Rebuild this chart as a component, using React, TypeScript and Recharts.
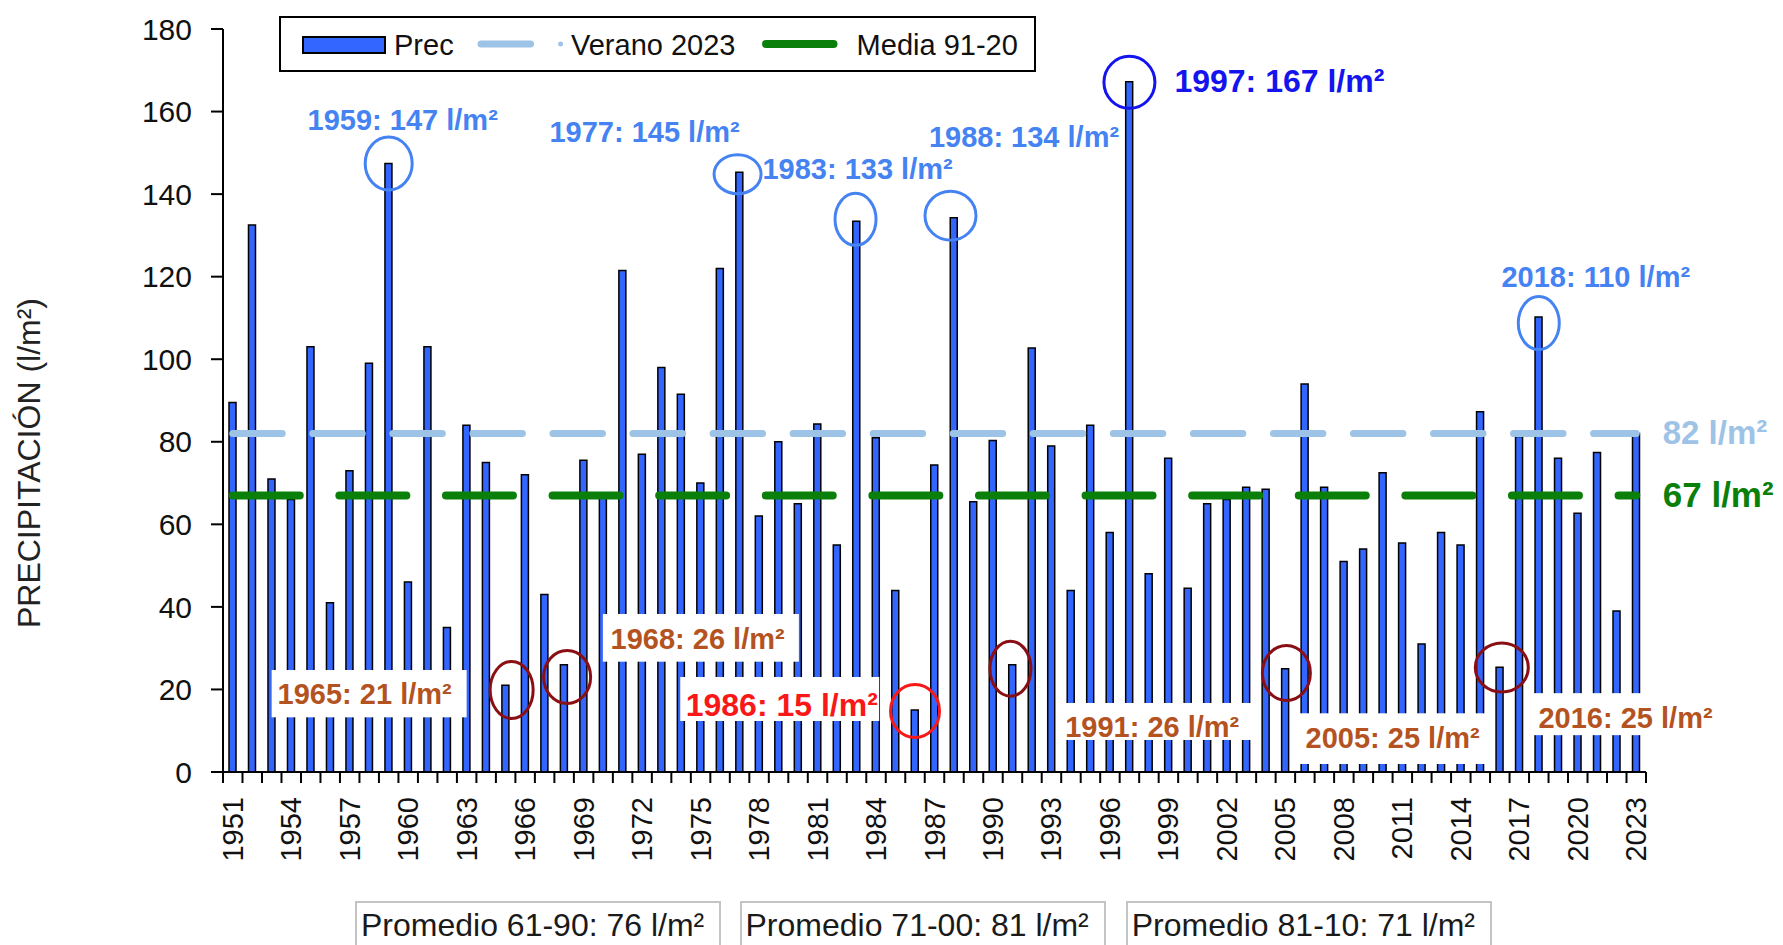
import React from 'react';
import { ComposedChart, Bar, Line, XAxis, YAxis, ReferenceDot } from 'recharts';

// summer precipitation, l/m², 1951-2023
const years = [
  1951, 1952, 1953, 1954, 1955, 1956, 1957, 1958, 1959, 1960,
  1961, 1962, 1963, 1964, 1965, 1966, 1967, 1968, 1969, 1970,
  1971, 1972, 1973, 1974, 1975, 1976, 1977, 1978, 1979, 1980,
  1981, 1982, 1983, 1984, 1985, 1986, 1987, 1988, 1989, 1990,
  1991, 1992, 1993, 1994, 1995, 1996, 1997, 1998, 1999, 2000,
  2001, 2002, 2003, 2004, 2005, 2006, 2007, 2008, 2009, 2010,
  2011, 2012, 2013, 2014, 2015, 2016, 2017, 2018, 2019, 2020,
  2021, 2022, 2023,
];
const prec = [
  89.5, 132.5, 71, 66, 103, 41, 73, 99, 147.4, 46,
  103, 35, 84, 75, 21, 72, 43, 26, 75.5, 66.5,
  121.5, 77, 98, 91.5, 70, 122, 145.3, 62, 80, 65,
  84.3, 55, 133.4, 81, 44, 15, 74.4, 134.3, 65.5, 80.3,
  26, 102.7, 79, 44, 84, 58, 167.2, 48, 76, 44.5,
  65, 66, 69, 68.5, 25, 94, 69, 51, 54, 72.5,
  55.5, 31, 58, 55, 87.3, 25.4, 81.3, 110.2, 76, 62.7,
  77.4, 39, 82,
];
const VERANO_2023 = 82;
const MEDIA_91_20 = 67;
const yTicks = [0, 20, 40, 60, 80, 100, 120, 140, 160, 180];
const wetYears = [1959, 1977, 1983, 1988, 1997, 2018];
const dryYears = [1965, 1968, 1986, 1991, 2005, 2016];
const periodNames = ['Promedio 61-90', 'Promedio 71-00', 'Promedio 81-10'];
const periodValues = [76, 81, 71];

const FONT = '"Liberation Sans", Arial, sans-serif';
const BAR_BLUE = '#3366ff';
const LIGHT = '#9dc3e6';
const GREEN = '#0a800a';
const NOTE_BLUE = '#4683f2';
const DEEP_BLUE = '#1414ee';
const BROWN = '#b4531f';
const DARK_RED = '#8a0f14';
const RED = '#f81818';

const W = 1783;
const H = 945;
const MARGIN = { top: 29, right: 137, bottom: 73, left: 143 };
const Y_AXIS_W = 80;
const X_AXIS_H = 100;
const STEP = (W - MARGIN.left - MARGIN.right - Y_AXIS_W) / years.length;

const rows = years.map((y, i) => ({
  year: String(y),
  prec: prec[i],
  verano: VERANO_2023,
  media: MEDIA_91_20,
}));

// offsets from the bar top, in px
type NoteStyle = {
  dx: number; dy: number; cdx: number; cdy: number; rx: number; ry: number;
  size: number; color: string; ring: string; anchor?: 'start' | 'middle';
  box?: [number, number, number, number];
};
const noteStyle: Record<number, NoteStyle> = {
  1959: { dx: 14, dy: -44, cdx: 0, cdy: 0, rx: 23.5, ry: 26.5, size: 29, color: NOTE_BLUE, ring: NOTE_BLUE },
  1977: { dx: -95, dy: -40.5, cdx: -2, cdy: 2, rx: 23.5, ry: 19.5, size: 29, color: NOTE_BLUE, ring: NOTE_BLUE },
  1983: { dx: 1, dy: -52.4, cdx: -1, cdy: -2, rx: 20.5, ry: 26, size: 29, color: NOTE_BLUE, ring: NOTE_BLUE },
  1988: { dx: 70, dy: -81, cdx: -3.5, cdy: -2, rx: 25.5, ry: 24.5, size: 29, color: NOTE_BLUE, ring: NOTE_BLUE },
  1997: { dx: 45, dy: -1, cdx: 0, cdy: 0.5, rx: 25.5, ry: 26, size: 32, color: DEEP_BLUE, ring: DEEP_BLUE, anchor: 'start' },
  2018: { dx: 57, dy: -41, cdx: 0, cdy: 6, rx: 20.5, ry: 26.5, size: 29, color: NOTE_BLUE, ring: NOTE_BLUE },
  1965: { dx: -141, dy: 8.7, cdx: 6, cdy: 4.7, rx: 21.5, ry: 28.5, size: 29, color: BROWN, ring: DARK_RED, box: [-234, -15.3, 195, 47.3] },
  1968: { dx: 133.5, dy: -26.2, cdx: 3, cdy: 12.3, rx: 23.5, ry: 26.5, size: 29, color: BROWN, ring: DARK_RED, box: [38.75, -50.7, 196, 47.7] },
  1986: { dx: -133.25, dy: -5.4, cdx: 0, cdy: 0.9, rx: 24.5, ry: 26.5, size: 32, color: RED, ring: RED, box: [-234.75, -33.1, 199, 44] },
  1991: { dx: 139.75, dy: 62, cdx: -2, cdy: 4, rx: 20.5, ry: 27.5, size: 29, color: BROWN, ring: DARK_RED, box: [49, 38.3, 190, 37] },
  2005: { dx: 107.25, dy: 68.7, cdx: 1, cdy: 4.2, rx: 24, ry: 27.5, size: 29, color: BROWN, ring: DARK_RED, box: [14, 44.5, 187, 50.7] },
  2016: { dx: 125.75, dy: 50.3, cdx: 2, cdy: 0.3, rx: 26.5, ry: 24.5, size: 29, color: BROWN, ring: DARK_RED, box: [33, 26, 189, 42] },
};

const makeNote = (year: number, value: number) => (props: any) => {
  const { cx, cy } = props;
  const s = noteStyle[year];
  return (
    <g>
      {s.box && (
        <rect x={cx + s.box[0]} y={cy + s.box[1]} width={s.box[2]} height={s.box[3]} fill="#fff" />
      )}
      <ellipse cx={cx + s.cdx} cy={cy + s.cdy} rx={s.rx} ry={s.ry} fill="none" stroke={s.ring} strokeWidth={3} />
      <text
        x={cx + s.dx}
        y={cy + s.dy + s.size * 0.36}
        textAnchor={s.anchor || 'middle'}
        fontSize={s.size}
        fontWeight="bold"
        fontFamily={FONT}
        fill={s.color}
      >
        {`${year}: ${Math.round(value)} l/m²`}
      </text>
    </g>
  );
};

const endLabel = (text: string, color: string, size: number) => (props: any) => {
  const { cx, cy } = props;
  return (
    <text x={cx + 26.5} y={cy - 1 + size * 0.36} fontSize={size} fontWeight="bold" fontFamily={FONT} fill={color}>
      {text}
    </text>
  );
};

const YearTick = (props: any) => {
  const { x, y, payload, index } = props;
  const half = STEP / 2;
  const ty = y + 25;
  return (
    <g>
      <line x1={x - half} x2={x - half} y1={y} y2={y + 11} stroke="#000" strokeWidth={2} />
      {index === years.length - 1 && (
        <line x1={x + half} x2={x + half} y1={y} y2={y + 11} stroke="#000" strokeWidth={2} />
      )}
      {index % 3 === 0 && (
        <text
          x={x}
          y={ty}
          transform={`rotate(-90 ${x} ${ty})`}
          textAnchor="end"
          dominantBaseline="central"
          fontSize={29}
          fontFamily={FONT}
          fill="#111"
        >
          {payload.value}
        </text>
      )}
    </g>
  );
};

const Legend = () => (
  <svg style={{ position: 'absolute', left: 279, top: 16 }} width={757} height={56}>
    <rect x={1} y={1} width={755} height={54} fill="#fff" stroke="#000" strokeWidth={2} />
    <rect x={24} y={21} width={82} height={16} fill={BAR_BLUE} stroke="#000" strokeWidth={2} />
    <text x={115} y={38.5} fontSize={29} fontFamily={FONT} fill="#111">Prec</text>
    <line x1={202} x2={251.5} y1={28} y2={28} stroke={LIGHT} strokeWidth={7} strokeLinecap="round" />
    <circle cx={281.6} cy={28} r={2.5} fill={LIGHT} />
    <text x={292} y={38.5} fontSize={29} fontFamily={FONT} fill="#111">Verano 2023</text>
    <line x1={487} x2={554.5} y1={28} y2={28} stroke={GREEN} strokeWidth={8} strokeLinecap="round" />
    <text x={577.6} y={38.5} fontSize={29} fontFamily={FONT} fill="#111">Media 91-20</text>
  </svg>
);

const boxLefts = [355, 739.5, 1125.7];

export default function App() {
  return (
    <div
      style={{
        position: 'absolute', left: 0, top: 0, width: W, height: H,
        overflow: 'hidden', background: '#fff', fontFamily: FONT,
      }}
    >
      <ComposedChart width={W} height={H} data={rows} margin={MARGIN}>
        <XAxis
          dataKey="year"
          type="category"
          interval={0}
          height={X_AXIS_H}
          tickLine={false}
          tickSize={0}
          tickMargin={0}
          axisLine={{ stroke: '#000', strokeWidth: 2 }}
          tick={<YearTick />}
        />
        <YAxis
          type="number"
          domain={[0, 180]}
          ticks={yTicks}
          width={Y_AXIS_W}
          tickSize={12}
          tickMargin={19}
          axisLine={{ stroke: '#000', strokeWidth: 2 }}
          tickLine={{ stroke: '#000', strokeWidth: 2 }}
          tick={{ fontSize: 30, fill: '#111', fontFamily: FONT }}
        />
        <Bar
          dataKey="prec"
          name="Prec"
          barSize={7}
          fill={BAR_BLUE}
          stroke="#000"
          strokeWidth={1.5}
          isAnimationActive={false}
        />
        <Line
          dataKey="verano"
          name="Verano 2023"
          stroke={LIGHT}
          strokeWidth={7}
          strokeDasharray="49.5 30.55"
          strokeLinecap="round"
          dot={false}
          activeDot={false}
          isAnimationActive={false}
        />
        <Line
          dataKey="media"
          name="Media 91-20"
          stroke={GREEN}
          strokeWidth={8}
          strokeDasharray="67 39.6"
          strokeLinecap="round"
          dot={false}
          activeDot={false}
          isAnimationActive={false}
        />
        <ReferenceDot
          x={String(years[years.length - 1])}
          y={VERANO_2023}
          r={1}
          shape={endLabel(`${VERANO_2023} l/m²`, LIGHT, 33)}
        />
        <ReferenceDot
          x={String(years[years.length - 1])}
          y={MEDIA_91_20}
          r={1}
          shape={endLabel(`${MEDIA_91_20} l/m²`, GREEN, 35)}
        />
        {[...wetYears, ...dryYears].map((yr) => {
          const v = prec[years.indexOf(yr)];
          return (
            <ReferenceDot key={yr} x={String(yr)} y={v} r={1} shape={makeNote(yr, v)} />
          );
        })}
      </ComposedChart>

      <Legend />

      <div style={{ position: 'absolute', left: 29, top: 463, width: 0, height: 0 }}>
        <div
          style={{
            position: 'absolute', left: 0, top: 0, whiteSpace: 'nowrap',
            transform: 'translate(-50%, -50%) rotate(-90deg)',
            fontSize: 32, color: '#222', lineHeight: '36px',
          }}
        >
          PRECIPITACIÓN (l/m²)
        </div>
      </div>

      {periodNames.map((name, i) => (
        <div
          key={name}
          style={{
            position: 'absolute', left: boxLefts[i], top: 901, width: 366, height: 60,
            boxSizing: 'border-box', border: '2px solid #c4c4c4', paddingLeft: 4,
            fontSize: 32, lineHeight: '44px', color: '#1a1a1a', whiteSpace: 'nowrap',
          }}
        >
          {`${name}: ${periodValues[i]} l/m²`}
        </div>
      ))}
    </div>
  );
}
